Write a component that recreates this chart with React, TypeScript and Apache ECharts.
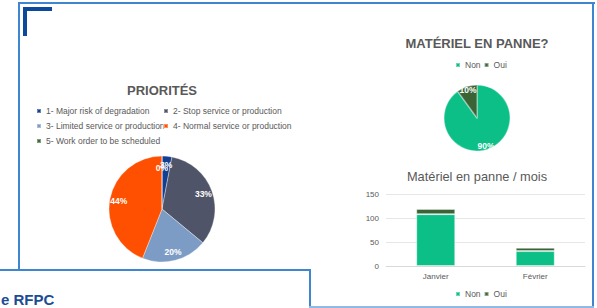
import React, { useEffect, useRef } from "react";
import * as echarts from "echarts";

const FONT = "'Liberation Sans', Arial, sans-serif";
const GREY = "#595959";

const priorityNames = [
  "1- Major risk of degradation",
  "2- Stop service or production",
  "3- Limited service or production",
  "4- Normal service or production",
  "5- Work order to be scheduled",
];
const priorityValues = [3, 33, 20, 44, 0];
const priorityColors = ["#123f8f", "#4f5468", "#7d9cc5", "#fe5000", "#3b6b32"];

const panneNames = ["Non", "Oui"];
const pannePercent = [90, 10];
const panneColors = ["#0cbf87", "#3b6436"];

const months = ["Janvier", "Février"];
const nonPerMonth = [108, 31];
const ouiPerMonth = [11, 7];
const yMin = 0;
const yMax = 150;
const yStep = 50;

const FRAME = "#3f86d0";
const CORNER = "#0d4a9a";

// pie geometry (layout, not data)
const PRIO_CENTER = [162, 209];
const PRIO_R = 53;
const PRIO_R0 = 29;
const PANNE_CENTER = [477, 118];
const PANNE_R = 33;
const PANNE_R0 = 19;

export default function App() {
  const ref = useRef<HTMLDivElement>(null);

  useEffect(() => {
    if (!ref.current) return;
    const chart = echarts.init(ref.current, undefined, { renderer: "svg" });

    const legendText = { fontSize: 8.5, color: GREY, fontFamily: FONT, lineHeight: 10 };
    const prioItem = (i: number) => ({ name: priorityNames[i], itemStyle: { color: priorityColors[i] } });
    const panneItem = (i: number) => ({ name: panneNames[i], itemStyle: { color: panneColors[i] } });

    const pieData = (names: string[], values: number[], colors: string[]) =>
      names.map((n, i) => ({ name: n, value: values[i], itemStyle: { color: colors[i] } }));
    const overlayData = (names: string[], values: number[]) =>
      names.map((n, i) => ({ name: n, value: values[i] }));

    const pieLabel = {
      show: true,
      position: "inside",
      formatter: "{d}%",
      color: "#ffffff",
      fontWeight: "bold",
      fontSize: 8.5,
      fontFamily: FONT,
    };

    // ECharts hides labels of zero-value slices; place those labels where the
    // slice sits (derived from the data's cumulative share), like Excel does.
    const zeroLabels = (values: number[], center: number[], r0: number, r: number) => {
      const total = values.reduce((a, b) => a + b, 0);
      const rm = (r0 + r) / 2;
      const out: any[] = [];
      let cum = 0;
      values.forEach((v) => {
        if (v === 0) {
          const a = ((cum + v / 2) / total) * 2 * Math.PI;
          out.push({
            type: "text",
            x: center[0] + rm * Math.sin(a),
            y: center[1] - rm * Math.cos(a),
            z: 10,
            silent: true,
            style: {
              text: "0%",
              fill: "#ffffff",
              font: `bold 8.5px ${FONT}`,
              textAlign: "center",
              textVerticalAlign: "middle",
            },
          });
        }
        cum += v;
      });
      return out;
    };

    const rect = (x: number, y: number, w: number, h: number, fill: string) => ({
      type: "rect",
      shape: { x, y, width: w, height: h },
      style: { fill },
      silent: true,
    });

    chart.setOption({
      animation: false,
      backgroundColor: "#ffffff",
      textStyle: { fontFamily: FONT },
      graphic: [
        rect(18, 2, 577, 2, FRAME),
        rect(18, 2, 2, 269, FRAME),
        rect(592, 2, 2, 306, FRAME),
        rect(0, 269, 311, 2, FRAME),
        rect(309, 269, 2, 39, FRAME),
        rect(309, 306, 285, 2, "#8fb9e6"),
        rect(23, 7, 29, 4, CORNER),
        rect(23, 7, 4, 29, CORNER),
        {
          type: "text",
          x: 1,
          y: 299,
          style: {
            text: "e RFPC",
            fill: "#1b4d96",
            font: `bold 15px ${FONT}`,
            textAlign: "left",
            textVerticalAlign: "middle",
          },
        },
        {
          type: "text",
          x: 162,
          y: 90,
          style: {
            text: "PRIORITÉS",
            fill: GREY,
            font: `bold 13px ${FONT}`,
            textAlign: "center",
            textVerticalAlign: "middle",
          },
        },
        {
          type: "text",
          x: 477,
          y: 43,
          style: {
            text: "MATÉRIEL EN PANNE?",
            fill: GREY,
            font: `bold 13px ${FONT}`,
            textAlign: "center",
            textVerticalAlign: "middle",
          },
        },
        {
          type: "text",
          x: 477,
          y: 176,
          style: {
            text: "Matériel en panne / mois",
            fill: GREY,
            font: `12.8px ${FONT}`,
            textAlign: "center",
            textVerticalAlign: "middle",
          },
        },
        ...zeroLabels(priorityValues, PRIO_CENTER, PRIO_R0, PRIO_R),
      ],
      legend: [
        {
          data: [prioItem(0), prioItem(2), prioItem(4)],
          left: 36,
          top: 106,
          orient: "vertical",
          icon: "rect",
          itemWidth: 4,
          itemHeight: 4,
          itemGap: 5,
          padding: 0,
          selectedMode: false,
          textStyle: legendText,
        },
        {
          data: [prioItem(1), prioItem(3)],
          left: 163,
          top: 106,
          orient: "vertical",
          icon: "rect",
          itemWidth: 4,
          itemHeight: 4,
          itemGap: 5,
          padding: 0,
          selectedMode: false,
          textStyle: legendText,
        },
        {
          data: [panneItem(0), panneItem(1)],
          left: 455,
          top: 60,
          icon: "rect",
          itemWidth: 4,
          itemHeight: 4,
          itemGap: 3,
          padding: 0,
          selectedMode: false,
          textStyle: legendText,
        },
        {
          data: [panneItem(0), panneItem(1)],
          left: 455,
          top: 289,
          icon: "rect",
          itemWidth: 4,
          itemHeight: 4,
          itemGap: 3,
          padding: 0,
          selectedMode: false,
          textStyle: legendText,
        },
      ],
      grid: { left: 386, right: 12, top: 194, bottom: 42, containLabel: false },
      xAxis: {
        type: "category",
        data: months,
        axisLine: { show: true, lineStyle: { color: "#d9d9d9" } },
        axisTick: { show: false },
        axisLabel: { color: GREY, fontSize: 8, fontFamily: FONT, margin: 6 },
      },
      yAxis: {
        type: "value",
        min: yMin,
        max: yMax,
        interval: yStep,
        axisLine: { show: false },
        axisTick: { show: false },
        splitLine: { lineStyle: { color: "#e6e6e6" } },
        axisLabel: { color: GREY, fontSize: 8, fontFamily: FONT, margin: 7 },
      },
      series: [
        {
          type: "pie",
          name: "Priorités",
          center: PRIO_CENTER,
          radius: PRIO_R,
          silent: true,
          label: { show: false },
          labelLine: { show: false },
          itemStyle: { borderColor: "rgba(255,255,255,0.35)", borderWidth: 1 },
          data: pieData(priorityNames, priorityValues, priorityColors),
        },
        {
          type: "pie",
          name: "PrioritésLabels",
          center: PRIO_CENTER,
          radius: [PRIO_R0, PRIO_R],
          silent: true,
          itemStyle: { color: "rgba(0,0,0,0)" },
          label: pieLabel,
          labelLine: { show: false },
          data: overlayData(priorityNames, priorityValues),
        },
        {
          type: "pie",
          name: "Matériel en panne?",
          center: PANNE_CENTER,
          radius: PANNE_R,
          silent: true,
          label: { show: false },
          labelLine: { show: false },
          itemStyle: { borderColor: "rgba(255,255,255,0.35)", borderWidth: 1.5 },
          data: pieData(panneNames, pannePercent, panneColors),
        },
        {
          type: "pie",
          name: "MatérielLabels",
          center: PANNE_CENTER,
          radius: [PANNE_R0, PANNE_R],
          silent: true,
          itemStyle: { color: "rgba(0,0,0,0)" },
          label: pieLabel,
          labelLine: { show: false },
          data: overlayData(panneNames, pannePercent),
        },
        {
          type: "bar",
          name: "Non",
          stack: "total",
          barWidth: 39,
          data: nonPerMonth,
          itemStyle: { color: panneColors[0], borderColor: "rgba(255,255,255,0.4)", borderWidth: 1 },
          silent: true,
        },
        {
          type: "bar",
          name: "Oui",
          stack: "total",
          barWidth: 39,
          data: ouiPerMonth,
          itemStyle: { color: panneColors[1], borderColor: "rgba(255,255,255,0.4)", borderWidth: 1 },
          silent: true,
        },
      ],
    });

    return () => chart.dispose();
  }, []);

  return (
    <div
      ref={ref}
      style={{ position: "absolute", left: 0, top: 0, width: 597, height: 308 }}
    />
  );
}
